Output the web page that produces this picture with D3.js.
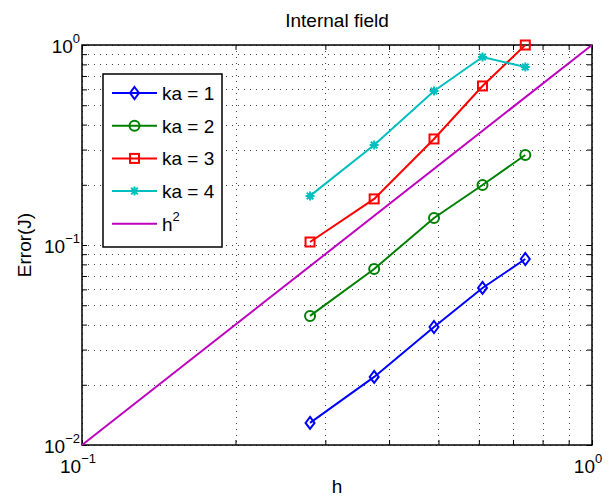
<!DOCTYPE html>
<html>
<head>
<meta charset="utf-8">
<script src="https://cdn.jsdelivr.net/npm/d3@7"></script>
<style>
  body { margin: 0; background: #fff; }
  text { font-family: "Liberation Sans", Arial, Helvetica, sans-serif; }
</style>
</head>
<body>
<script>
// data
var hValues = [0.28, 0.374, 0.49, 0.61, 0.74];
var ka1 = [0.0129, 0.0219, 0.0389, 0.061, 0.0851];
var ka2 = [0.0442, 0.0759, 0.1365, 0.1995, 0.282];
var ka3 = [0.1035, 0.170, 0.339, 0.624, 1.0];
var ka4 = [0.176, 0.316, 0.589, 0.871, 0.776];
var refH = [0.1, 1];               // h^2 reference line
var seriesNames = ["ka = 1", "ka = 2", "ka = 3", "ka = 4"];
var xTickExp = [-1, 0];
var yTickExp = [-2, -1, 0];

var series_colors = ["#0000ff", "#008000", "#ff0000", "#00bfbf"];
var series_markers = ["diamond", "circle", "square", "asterisk"];
var ref_color = "#bf00bf";

var W = 609, H = 497;
var p_left = 82, p_right = 592, p_top = 45, p_bottom = 445;
var font_size = 19, sup_size = 13;

var svg = d3.select("body").append("svg")
  .attr("width", W).attr("height", H);

var x = d3.scaleLog().domain([0.1, 1]).range([p_left, p_right]);
var y = d3.scaleLog().domain([0.01, 1]).range([p_bottom, p_top]);

// dotted grid on every decade subdivision
var grid = svg.append("g").attr("class", "grid")
  .attr("stroke", "#444").attr("stroke-width", 1)
  .attr("stroke-dasharray", "1,5");
grid.selectAll("line.gx").data(x.ticks()).enter().append("line")
  .attr("x1", d => Math.round(x(d)) + 0.5).attr("x2", d => Math.round(x(d)) + 0.5)
  .attr("y1", p_top).attr("y2", p_bottom);
grid.selectAll("line.gy").data(y.ticks()).enter().append("line")
  .attr("y1", d => Math.round(y(d)) + 0.5).attr("y2", d => Math.round(y(d)) + 0.5)
  .attr("x1", p_left).attr("x2", p_right);

// inward ticks on all four sides
function styleAxis(g) {
  g.select(".domain").remove();
  g.selectAll("text").remove();
  g.selectAll("line").attr("stroke", "#000");
}
var tick_len = 5;
svg.append("g").attr("transform", "translate(0," + p_bottom + ")")
  .call(d3.axisBottom(x).tickSize(-tick_len).tickFormat("")).call(styleAxis);
svg.append("g").attr("transform", "translate(0," + p_top + ")")
  .call(d3.axisTop(x).tickSize(-tick_len).tickFormat("")).call(styleAxis);
svg.append("g").attr("transform", "translate(" + p_left + ",0)")
  .call(d3.axisLeft(y).tickSize(-tick_len).tickFormat("")).call(styleAxis);
svg.append("g").attr("transform", "translate(" + p_right + ",0)")
  .call(d3.axisRight(y).tickSize(-tick_len).tickFormat("")).call(styleAxis);

// plot box
svg.append("rect")
  .attr("x", p_left).attr("y", p_top)
  .attr("width", p_right - p_left).attr("height", p_bottom - p_top)
  .attr("fill", "none").attr("stroke", "#000").attr("stroke-width", 1.5);

// tick labels 10^n
function powLabel(sel, e) {
  sel.append("tspan").text("10").style("font-size", font_size + "px");
  sel.append("tspan").text(String(e).replace("-", "\u2212"))
    .attr("dy", -10).style("font-size", sup_size + "px");
}
xTickExp.forEach(function(e) {
  svg.append("text")
    .attr("x", x(Math.pow(10, e)) - 4).attr("y", p_bottom + 28)
    .attr("text-anchor", "middle")
    .call(powLabel, e);
});
yTickExp.forEach(function(e) {
  svg.append("text")
    .attr("x", p_left - 2).attr("y", y(Math.pow(10, e)) + 8)
    .attr("text-anchor", "end")
    .call(powLabel, e);
});

// title and axis labels
svg.append("text").text("Internal field")
  .attr("x", (p_left + p_right) / 2).attr("y", 27)
  .attr("text-anchor", "middle").style("font-size", font_size + "px");
svg.append("text").text("h")
  .attr("x", (p_left + p_right) / 2).attr("y", 493)
  .attr("text-anchor", "middle").style("font-size", font_size + "px");
svg.append("text").text("Error(J)")
  .attr("transform", "translate(31," + (p_top + p_bottom) / 2 + ") rotate(-90)")
  .attr("text-anchor", "middle").style("font-size", font_size + "px");

// markers
function drawMarker(g, type, color, cx, cy) {
  if (type == "diamond") {
    g.append("path")
      .attr("d", "M" + cx + "," + (cy - 6) + "L" + (cx + 4.5) + "," + cy +
        "L" + cx + "," + (cy + 6) + "L" + (cx - 4.5) + "," + cy + "Z")
      .attr("fill", "none").attr("stroke", color).attr("stroke-width", 2);
  } else if (type == "circle") {
    g.append("circle").attr("cx", cx).attr("cy", cy).attr("r", 5)
      .attr("fill", "none").attr("stroke", color).attr("stroke-width", 2);
  } else if (type == "square") {
    g.append("rect").attr("x", cx - 4.5).attr("y", cy - 4.5)
      .attr("width", 9).attr("height", 9)
      .attr("fill", "none").attr("stroke", color).attr("stroke-width", 2);
  } else {
    var r = 4.5, q = 3.3;
    g.append("path")
      .attr("d", "M" + (cx - r) + "," + cy + "h" + (2 * r) +
        "M" + cx + "," + (cy - r) + "v" + (2 * r) +
        "M" + (cx - q) + "," + (cy - q) + "l" + (2 * q) + "," + (2 * q) +
        "M" + (cx - q) + "," + (cy + q) + "l" + (2 * q) + "," + (-2 * q))
      .attr("fill", "none").attr("stroke", color).attr("stroke-width", 2);
  }
}

var line = d3.line().x(d => x(d[0])).y(d => y(d[1]));
var plot = svg.append("g");

// h^2 reference
plot.append("path")
  .attr("d", line(refH.map(h => [h, h * h])))
  .attr("fill", "none").attr("stroke", ref_color).attr("stroke-width", 2);

[ka1, ka2, ka3, ka4].forEach(function(vals, i) {
  var pts = hValues.map((h, j) => [h, vals[j]]);
  var g = plot.append("g");
  g.append("path").attr("d", line(pts))
    .attr("fill", "none").attr("stroke", series_colors[i]).attr("stroke-width", 2);
  pts.forEach(function(p) {
    drawMarker(g, series_markers[i], series_colors[i], x(p[0]), y(p[1]));
  });
});

// legend
var leg_x = 103, leg_y = 74, leg_w = 119, leg_h = 173, row_h = 32.7;
var legend = svg.append("g");
legend.append("rect")
  .attr("x", leg_x).attr("y", leg_y).attr("width", leg_w).attr("height", leg_h)
  .attr("fill", "#fff").attr("stroke", "#000").attr("stroke-width", 1.5);
var legendNames = seriesNames.concat(["h2"]);
legendNames.forEach(function(name, i) {
  var ry = leg_y + 19 + i * row_h;
  var color = i < 4 ? series_colors[i] : ref_color;
  legend.append("line")
    .attr("x1", 112).attr("x2", 157).attr("y1", ry).attr("y2", ry)
    .attr("stroke", color).attr("stroke-width", 2);
  if (i < 4) drawMarker(legend, series_markers[i], color, 134.5, ry);
  var t = legend.append("text").attr("x", 162).attr("y", ry + 7)
    .style("font-size", font_size + "px");
  if (i < 4) {
    t.text(name);
  } else {
    t.append("tspan").text("h");
    t.append("tspan").text("2").attr("dy", -10).style("font-size", sup_size + "px");
  }
});
</script>
</body>
</html>
